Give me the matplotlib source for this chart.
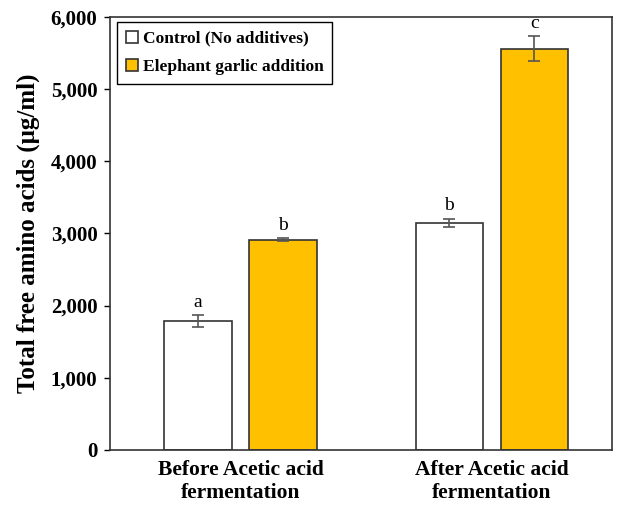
import numpy as np
import matplotlib
matplotlib.use("Agg")
import matplotlib.pyplot as plt

groups = ["Before Acetic acid\nfermentation", "After Acetic acid\nfermentation"]
series = ["Control (No additives)", "Elephant garlic addition"]
control = [1790, 3150]
control_err = [80, 55]
garlic = [2915, 5560]
garlic_err = [20, 170]
control_letters = ["a", "b"]
garlic_letters = ["b", "c"]

plt.rcParams["font.family"] = ["Liberation Serif", "DejaVu Serif"]

fig = plt.figure(figsize=(6.21, 5.09), dpi=100)
ax = fig.add_axes([0.177, 0.116, 0.809, 0.851])

x = np.arange(1, len(groups) + 1)
w = 0.268
off = 0.169
err_kw = dict(ecolor="#555555", elinewidth=1.2, capsize=4, capthick=1.2)
ax.bar(x - off, control, w, yerr=control_err, color="white",
       edgecolor="#333333", linewidth=1.2, label=series[0], error_kw=err_kw)
ax.bar(x + off, garlic, w, yerr=garlic_err, color="#FFC000",
       edgecolor="#333333", linewidth=1.2, label=series[1], error_kw=err_kw)

for xi, v, e, t in zip(x - off, control, control_err, control_letters):
    ax.text(xi, v + e + 60, t, ha="center", va="bottom", fontsize=14)
for xi, v, e, t in zip(x + off, garlic, garlic_err, garlic_letters):
    ax.text(xi, v + e + 60, t, ha="center", va="bottom", fontsize=14)

ax.set_xlim(0.48, 2.48)
ax.set_ylim(0, 6000)
ax.set_yticks(range(0, 6001, 1000))
ax.set_yticklabels([f"{v:,}" for v in range(0, 6001, 1000)],
                   fontsize=15, fontweight="bold")
ax.set_xticks(x)
ax.set_xticklabels(groups, fontsize=15.5, fontweight="bold", linespacing=1.25)
ax.tick_params(axis="x", length=0, pad=7)
ax.tick_params(axis="y", length=4, width=1, direction="out", pad=5)
ax.set_ylabel("Total free amino acids (\u03bcg/ml)", fontsize=18,
              fontweight="bold", labelpad=8)
for s in ax.spines.values():
    s.set_linewidth(1.2)
    s.set_color("#333333")

leg = ax.legend(loc="upper left", bbox_to_anchor=(0.014, 0.988), borderaxespad=0,
                fancybox=False, edgecolor="black", framealpha=1,
                prop={"weight": "bold", "size": 12.5},
                handlelength=0.7, handleheight=0.7, handletextpad=0.3,
                borderpad=0.5, labelspacing=0.7)
leg.get_frame().set_linewidth(1.0)

fig.savefig("out.png", dpi=100)
